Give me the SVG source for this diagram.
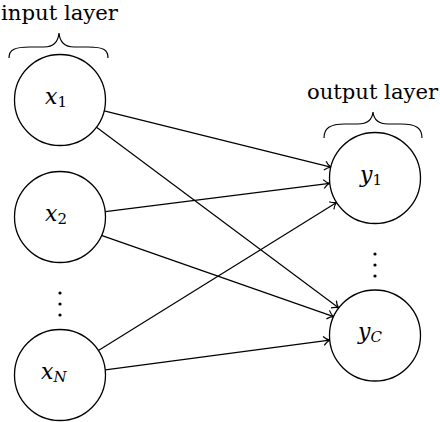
<svg xmlns="http://www.w3.org/2000/svg" width="440" height="422" viewBox="0 0 440 422">
<style>
.node{fill:#fff;stroke:#000;stroke-width:1.3}
.edge{stroke:#000;stroke-width:1.2;fill:none}
.brace{stroke:#000;stroke-width:1.2;fill:none}
.dot{fill:#000}
text{font-family:'DejaVu Serif',serif;fill:#000}
.lbl{font-size:21px}
.math{font-style:italic;font-size:22px}
.sub{font-style:normal;font-size:15px}
.subi{font-size:15px}
</style>
<defs>
<marker id="arr" markerWidth="12" markerHeight="12" refX="9" refY="6" orient="auto" markerUnits="userSpaceOnUse">
<path d="M3,1.5 Q6,5 9,6 Q6,7 3,10.5" fill="none" stroke="#000" stroke-width="1.2"/>
</marker>
</defs>
<text class="lbl" x="1" y="20" textLength="117" lengthAdjust="spacingAndGlyphs">input layer</text>
<text class="lbl" x="307" y="99" textLength="131" lengthAdjust="spacingAndGlyphs">output layer</text>
<path class="brace" d="M9,58 C9,50 14,47 30,47 L44,47 C52,47 58,44 59,33 C60,44 66,47 74,47 L88,47 C104,47 108,50 108,58"/>
<path class="brace" d="M324,138 C324,128 330,124 345,124 L358,124 C366,124 372,121 373,112 C374,121 380,124 388,124 L401,124 C416,124 422,128 422,138"/>
<g id="connectors">
<line class="edge" x1="104.2" y1="110.9" x2="330.8" y2="167.1" marker-end="url(#arr)"/>
<line class="edge" x1="96.5" y1="127.2" x2="338.5" y2="307.8" marker-end="url(#arr)"/>
<line class="edge" x1="105.4" y1="211.7" x2="329.6" y2="183.3" marker-end="url(#arr)"/>
<line class="edge" x1="101.4" y1="235.4" x2="333.6" y2="316.6" marker-end="url(#arr)"/>
<line class="edge" x1="98.4" y1="350.6" x2="336.6" y2="202.4" marker-end="url(#arr)"/>
<line class="edge" x1="105.4" y1="369.8" x2="329.6" y2="340.2" marker-end="url(#arr)"/>
</g>
<g id="x1"><circle class="node" cx="60" cy="100" r="45.5"/><text class="math" x="45" y="104">x<tspan class="sub" dy="3">1</tspan></text></g>
<g id="x2"><circle class="node" cx="60" cy="217" r="45.5"/><text class="math" x="45" y="221">x<tspan class="sub" dy="3">2</tspan></text></g>
<g id="xdots"><circle class="dot" cx="60" cy="293" r="1.6"/><circle class="dot" cx="60" cy="304" r="1.6"/><circle class="dot" cx="60" cy="315" r="1.6"/></g>
<g id="xN"><circle class="node" cx="60" cy="375" r="45.5"/><text class="math" x="41" y="379">x<tspan class="subi" dy="3">N</tspan></text></g>
<g id="y1"><circle class="node" cx="375" cy="178" r="45.5"/><text class="math" x="360" y="182">y<tspan class="sub" dy="3">1</tspan></text></g>
<g id="ydots"><circle class="dot" cx="375" cy="254" r="1.6"/><circle class="dot" cx="375" cy="265" r="1.6"/><circle class="dot" cx="375" cy="276" r="1.6"/></g>
<g id="yC"><circle class="node" cx="375" cy="335.5" r="45.5"/><text class="math" x="358" y="339">y<tspan class="subi" dy="3">C</tspan></text></g>
</svg>
